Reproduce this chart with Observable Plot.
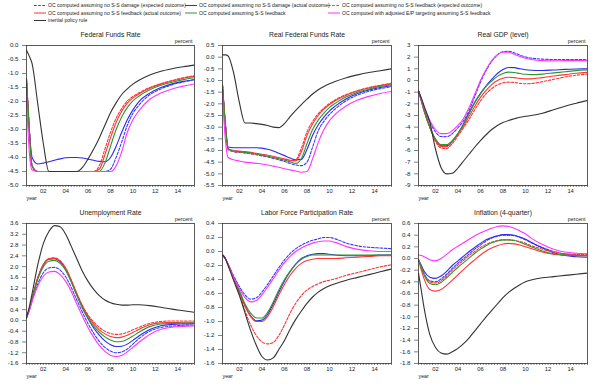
<!DOCTYPE html>
<html><head><meta charset="utf-8">
<script src="https://cdn.jsdelivr.net/npm/d3@7"></script>
<script src="https://cdn.jsdelivr.net/npm/@observablehq/plot@0.6"></script>
<style>
html,body{margin:0;padding:0;background:#fff;}
#wrap{position:relative;width:600px;height:391px;overflow:hidden;font-family:"Liberation Sans",Arial,sans-serif;}
#wrap svg{position:absolute;overflow:visible;}
</style></head>
<body><div id="wrap"></div>
<script>
// ---------- shared data ----------
const years = [2001, 2001.25, 2001.5, 2002, 2002.5, 2003, 2003.5, 2004, 2004.5, 2005, 2005.5, 2006, 2006.5, 2007, 2007.5, 2008, 2008.5, 2009, 2009.5, 2010, 2010.5, 2011, 2012, 2013, 2014, 2015, 2016];
const legendLabels = [
  "OC computed assuming no S-S damage (expected outcome)",
  "OC computed assuming no S-S damage (actual outcome)",
  "OC computed assuming no S-S feedback (expected outcome)",
  "OC computed assuming no S-S feedback (actual outcome)",
  "OC computed assuming S-S feedback",
  "OC computed with adjusted E/P targeting assuming S-S feedback",
  "inertial policy rule"
];
const seriesColors = ["#3a3aff", "#2a2af0", "#ff3434", "#ff3434", "#2f972f", "#ff33ff", "#333333"];
const seriesDash = ["2.6,1.6", null, "2.6,1.6", null, null, null, null];
const panelTitles = ["Federal Funds Rate", "Real Federal Funds Rate", "Real GDP (level)", "Unemployment Rate", "Labor Force Participation Rate", "Inflation (4-quarter)"];
const xTickPos = [2002.5, 2004.5, 2006.5, 2008.5, 2010.5, 2012.5, 2014.5];
const xTickLabels = ["02", "04", "06", "08", "10", "12", "14"];

// ---------- y ticks ----------
const ffTicks = [0, -0.5, -1, -1.5, -2, -2.5, -3, -3.5, -4, -4.5, -5];
const rffTicks = [0.5, 0, -0.5, -1, -1.5, -2, -2.5, -3, -3.5, -4, -4.5, -5, -5.5];
const gdpTicks = [3, 2, 1, 0, -1, -2, -3, -4, -5, -6, -7, -8, -9];
const urTicks = [3.6, 3.2, 2.8, 2.4, 2.0, 1.6, 1.2, 0.8, 0.4, 0.0, -0.4, -0.8, -1.2, -1.6];
const lfTicks = [0.4, 0.2, 0.0, -0.2, -0.4, -0.6, -0.8, -1.0, -1.2, -1.4, -1.6];
const infTicks = [0.6, 0.4, 0.2, 0.0, -0.2, -0.4, -0.6, -0.8, -1.0, -1.2, -1.4, -1.6, -1.8];

// ---------- Federal Funds Rate ----------
const ff_bd = [-1.2, -3.0, -4.3, -4.5, -4.5, -4.5, -4.5, -4.5, -4.5, -4.5, -4.5, -4.5, -4.5, -4.5, -4.5, -4.5, -4.42, -4.0, -3.45, -2.85, -2.42, -2.15, -1.76, -1.55, -1.4, -1.3, -1.22];
const ff_bs = [-1.25, -3.0, -4.0, -4.23, -4.2, -4.15, -4.1, -4.05, -4.01, -4.0, -4.0, -4.02, -4.06, -4.1, -4.14, -4.15, -4.0, -3.6, -3.1, -2.65, -2.3, -2.02, -1.7, -1.5, -1.37, -1.28, -1.22];
const ff_rd = [-1.2, -3.0, -4.3, -4.5, -4.5, -4.5, -4.5, -4.5, -4.5, -4.5, -4.5, -4.5, -4.5, -4.5, -4.3, -3.7, -3.1, -2.6, -2.25, -1.98, -1.82, -1.7, -1.5, -1.36, -1.25, -1.15, -1.08];
const ff_rs = [-1.2, -3.0, -4.3, -4.5, -4.5, -4.5, -4.5, -4.5, -4.5, -4.5, -4.5, -4.5, -4.5, -4.5, -4.42, -3.9, -3.3, -2.75, -2.35, -2.06, -1.87, -1.74, -1.53, -1.38, -1.27, -1.17, -1.1];
const ff_g  = [-1.2, -3.0, -4.3, -4.5, -4.5, -4.5, -4.5, -4.5, -4.5, -4.5, -4.5, -4.5, -4.5, -4.5, -4.5, -4.2, -3.6, -3.0, -2.55, -2.22, -1.98, -1.82, -1.58, -1.42, -1.31, -1.22, -1.15];
const ff_m  = [-1.9, -3.8, -4.45, -4.5, -4.5, -4.5, -4.5, -4.5, -4.5, -4.5, -4.5, -4.5, -4.5, -4.5, -4.5, -4.5, -4.5, -4.3, -3.8, -3.1, -2.65, -2.35, -1.92, -1.7, -1.55, -1.45, -1.37];
const ff_k  = [-0.17, -0.38, -0.65, -2.07, -3.49, -4.5, -4.5, -4.5, -4.5, -4.5, -4.5, -4.35, -4.05, -3.7, -3.3, -2.85, -2.4, -2.05, -1.75, -1.55, -1.38, -1.25, -1.05, -0.92, -0.83, -0.76, -0.7];

// ---------- Real Federal Funds Rate ----------
const rff_bd = [-1.2, -2.9, -3.95, -4.05, -4.08, -4.1, -4.14, -4.18, -4.23, -4.28, -4.34, -4.4, -4.47, -4.55, -4.62, -4.65, -4.5, -3.85, -3.15, -2.75, -2.45, -2.22, -1.86, -1.62, -1.46, -1.35, -1.26];
const rff_bs = [-1.2, -2.8, -3.85, -3.88, -3.88, -3.88, -3.88, -3.88, -3.9, -3.95, -4.02, -4.12, -4.22, -4.32, -4.4, -4.38, -3.95, -3.35, -2.9, -2.57, -2.3, -2.1, -1.78, -1.56, -1.41, -1.3, -1.22];
const rff_rd = [-1.2, -2.85, -3.95, -4.05, -4.07, -4.1, -4.13, -4.17, -4.2, -4.25, -4.3, -4.35, -4.4, -4.45, -4.4, -3.9, -3.2, -2.75, -2.42, -2.18, -1.98, -1.83, -1.6, -1.43, -1.3, -1.2, -1.12];
const rff_rs = [-1.2, -2.85, -3.92, -4.0, -4.02, -4.05, -4.08, -4.12, -4.16, -4.2, -4.25, -4.3, -4.36, -4.42, -4.45, -4.05, -3.35, -2.85, -2.5, -2.23, -2.03, -1.87, -1.63, -1.45, -1.32, -1.22, -1.14];
const rff_g  = [-1.2, -2.85, -3.93, -4.02, -4.05, -4.08, -4.11, -4.15, -4.2, -4.25, -4.3, -4.35, -4.42, -4.48, -4.55, -4.35, -3.7, -3.1, -2.7, -2.4, -2.15, -1.98, -1.7, -1.5, -1.37, -1.26, -1.18];
const rff_m  = [-1.7, -3.5, -4.3, -4.4, -4.45, -4.5, -4.52, -4.55, -4.58, -4.62, -4.67, -4.72, -4.78, -4.83, -4.88, -4.93, -4.9, -4.35, -3.65, -3.1, -2.72, -2.45, -2.08, -1.84, -1.68, -1.56, -1.47];
const rff_k  = [0.1, 0.1, 0.05, -0.7, -1.95, -2.82, -2.82, -2.85, -2.88, -2.93, -3.0, -3.02, -2.85, -2.55, -2.28, -2.03, -1.8, -1.58, -1.4, -1.26, -1.14, -1.04, -0.88, -0.76, -0.66, -0.58, -0.5];

// ---------- Real GDP (level) ----------
const gdp_bd = [-0.9, -1.65, -2.4, -3.55, -4.4, -4.8, -4.82, -4.55, -4.05, -3.45, -2.55, -1.35, -0.15, 0.85, 1.65, 2.2, 2.47, 2.5, 2.38, 2.18, 2.02, 1.92, 1.83, 1.8, 1.8, 1.8, 1.78];
const gdp_bs = [-0.9, -1.7, -2.55, -3.95, -5.05, -5.6, -5.6, -5.2, -4.55, -3.7, -2.75, -1.85, -1.1, -0.45, 0.1, 0.6, 0.95, 1.12, 1.1, 1.0, 0.92, 0.88, 0.86, 0.9, 0.95, 0.98, 1.0];
const gdp_rd = [-0.9, -1.75, -2.65, -4.05, -5.2, -5.78, -5.82, -5.4, -4.75, -4.05, -3.3, -2.5, -1.75, -1.15, -0.7, -0.38, -0.2, -0.14, -0.17, -0.24, -0.28, -0.26, -0.1, 0.1, 0.3, 0.45, 0.55];
const gdp_rs = [-0.9, -1.72, -2.6, -4.0, -5.1, -5.65, -5.68, -5.25, -4.6, -3.9, -3.05, -2.2, -1.45, -0.85, -0.35, 0.0, 0.2, 0.28, 0.25, 0.18, 0.14, 0.14, 0.25, 0.38, 0.5, 0.62, 0.7];
const gdp_g  = [-0.9, -1.7, -2.55, -3.95, -5.0, -5.5, -5.5, -5.15, -4.55, -3.75, -2.8, -1.9, -1.15, -0.5, -0.05, 0.35, 0.6, 0.72, 0.68, 0.6, 0.53, 0.5, 0.55, 0.65, 0.75, 0.85, 0.9];
const gdp_m  = [-0.9, -1.6, -2.3, -3.4, -4.2, -4.55, -4.55, -4.3, -3.85, -3.25, -2.3, -1.15, 0.0, 0.95, 1.7, 2.2, 2.42, 2.42, 2.25, 2.05, 1.9, 1.8, 1.7, 1.68, 1.7, 1.7, 1.7];
const gdp_k  = [-0.9, -1.5, -2.2, -3.55, -5.85, -7.45, -8.0, -7.95, -7.5, -6.9, -6.3, -5.7, -5.15, -4.65, -4.2, -3.85, -3.6, -3.42, -3.28, -3.15, -3.07, -3.0, -2.8, -2.5, -2.2, -1.95, -1.72];

// ---------- Unemployment Rate ----------
const u_bd = [0.1, 0.38, 0.74, 1.35, 1.77, 1.95, 1.97, 1.87, 1.62, 1.22, 0.75, 0.3, -0.12, -0.48, -0.78, -1.0, -1.14, -1.2, -1.17, -1.06, -0.88, -0.69, -0.4, -0.26, -0.21, -0.18, -0.17];
const u_bs = [0.1, 0.42, 0.82, 1.57, 2.06, 2.27, 2.29, 2.18, 1.9, 1.45, 0.95, 0.47, 0.06, -0.28, -0.55, -0.76, -0.9, -0.97, -0.96, -0.88, -0.74, -0.59, -0.34, -0.2, -0.15, -0.13, -0.12];
const u_rd = [0.1, 0.42, 0.82, 1.58, 2.08, 2.3, 2.33, 2.22, 1.95, 1.5, 1.0, 0.55, 0.2, -0.06, -0.26, -0.4, -0.49, -0.52, -0.5, -0.44, -0.35, -0.26, -0.11, -0.04, -0.02, -0.02, -0.02];
const u_rs = [0.1, 0.42, 0.82, 1.57, 2.06, 2.28, 2.31, 2.2, 1.93, 1.48, 0.98, 0.52, 0.15, -0.13, -0.35, -0.5, -0.6, -0.64, -0.62, -0.55, -0.45, -0.34, -0.16, -0.09, -0.08, -0.07, -0.07];
const u_g  = [0.1, 0.41, 0.8, 1.52, 1.99, 2.2, 2.23, 2.12, 1.86, 1.42, 0.92, 0.46, 0.08, -0.21, -0.44, -0.61, -0.73, -0.79, -0.78, -0.7, -0.58, -0.45, -0.23, -0.13, -0.11, -0.1, -0.1];
const u_m  = [0.1, 0.36, 0.7, 1.27, 1.64, 1.8, 1.82, 1.7, 1.45, 1.07, 0.6, 0.15, -0.27, -0.63, -0.93, -1.15, -1.29, -1.34, -1.3, -1.17, -1.0, -0.83, -0.52, -0.33, -0.25, -0.22, -0.2];
const u_k  = [0.1, 0.5, 1.0, 2.05, 2.85, 3.3, 3.52, 3.48, 3.2, 2.75, 2.28, 1.82, 1.45, 1.15, 0.92, 0.76, 0.66, 0.6, 0.57, 0.57, 0.58, 0.58, 0.55, 0.49, 0.42, 0.36, 0.3];

// ---------- Labor Force Participation Rate ----------
const lf_bd = [-0.05, -0.1, -0.18, -0.35, -0.5, -0.62, -0.68, -0.66, -0.58, -0.47, -0.35, -0.23, -0.12, -0.03, 0.04, 0.09, 0.13, 0.16, 0.18, 0.2, 0.2, 0.18, 0.12, 0.08, 0.06, 0.05, 0.04];
const lf_bs = [-0.05, -0.1, -0.19, -0.38, -0.58, -0.78, -0.92, -0.99, -0.98, -0.9, -0.75, -0.58, -0.42, -0.29, -0.18, -0.1, -0.06, -0.04, -0.03, -0.03, -0.04, -0.05, -0.06, -0.06, -0.06, -0.05, -0.05];
const lf_rd = [-0.05, -0.1, -0.2, -0.4, -0.6, -0.85, -1.05, -1.2, -1.29, -1.32, -1.3, -1.2, -1.05, -0.88, -0.74, -0.63, -0.55, -0.5, -0.46, -0.43, -0.41, -0.39, -0.34, -0.3, -0.26, -0.22, -0.19];
const lf_rs = [-0.05, -0.1, -0.19, -0.38, -0.58, -0.78, -0.93, -1.0, -1.0, -0.93, -0.79, -0.62, -0.47, -0.34, -0.24, -0.17, -0.13, -0.11, -0.1, -0.1, -0.1, -0.1, -0.09, -0.08, -0.07, -0.06, -0.06];
const lf_g  = [-0.05, -0.1, -0.19, -0.37, -0.56, -0.75, -0.88, -0.95, -0.95, -0.87, -0.72, -0.55, -0.4, -0.28, -0.18, -0.11, -0.07, -0.05, -0.05, -0.05, -0.05, -0.05, -0.05, -0.05, -0.05, -0.05, -0.05];
const lf_m  = [-0.05, -0.1, -0.19, -0.37, -0.53, -0.66, -0.72, -0.7, -0.62, -0.51, -0.39, -0.27, -0.16, -0.07, 0.0, 0.05, 0.09, 0.12, 0.14, 0.15, 0.15, 0.13, 0.07, 0.03, 0.01, 0.0, 0.0];
const lf_k  = [-0.05, -0.1, -0.2, -0.42, -0.63, -0.88, -1.13, -1.34, -1.5, -1.55, -1.52, -1.4, -1.27, -1.11, -0.97, -0.85, -0.74, -0.65, -0.58, -0.53, -0.49, -0.46, -0.41, -0.37, -0.33, -0.29, -0.25];

// ---------- Inflation (4-quarter) ----------
const in_bd = [-0.02, -0.14, -0.26, -0.38, -0.4, -0.35, -0.27, -0.17, -0.08, 0.0, 0.08, 0.16, 0.23, 0.3, 0.35, 0.38, 0.4, 0.4, 0.39, 0.36, 0.32, 0.27, 0.19, 0.12, 0.08, 0.06, 0.05];
const in_bs = [-0.02, -0.12, -0.22, -0.32, -0.34, -0.3, -0.22, -0.12, -0.04, 0.04, 0.12, 0.19, 0.26, 0.32, 0.36, 0.39, 0.41, 0.41, 0.4, 0.37, 0.33, 0.28, 0.18, 0.1, 0.05, 0.03, 0.02];
const in_rd = [-0.02, -0.14, -0.27, -0.4, -0.42, -0.38, -0.3, -0.2, -0.11, -0.03, 0.05, 0.12, 0.19, 0.24, 0.28, 0.31, 0.32, 0.32, 0.31, 0.29, 0.26, 0.22, 0.16, 0.11, 0.08, 0.07, 0.07];
const in_rs = [-0.02, -0.2, -0.35, -0.53, -0.56, -0.53, -0.46, -0.37, -0.28, -0.19, -0.1, -0.02, 0.06, 0.13, 0.18, 0.22, 0.25, 0.26, 0.25, 0.23, 0.2, 0.17, 0.11, 0.07, 0.06, 0.05, 0.05];
const in_g  = [-0.02, -0.15, -0.28, -0.43, -0.45, -0.41, -0.33, -0.24, -0.15, -0.07, 0.01, 0.09, 0.16, 0.22, 0.27, 0.3, 0.32, 0.32, 0.31, 0.28, 0.24, 0.2, 0.13, 0.08, 0.06, 0.05, 0.05];
const in_m  = [0.06, 0.05, 0.03, -0.02, -0.04, 0.0, 0.07, 0.15, 0.21, 0.27, 0.33, 0.39, 0.44, 0.48, 0.52, 0.55, 0.56, 0.55, 0.52, 0.47, 0.42, 0.35, 0.24, 0.16, 0.11, 0.09, 0.08];
const in_k  = [-0.25, -0.55, -0.85, -1.3, -1.52, -1.62, -1.64, -1.6, -1.54, -1.46, -1.36, -1.24, -1.12, -1.0, -0.89, -0.78, -0.67, -0.58, -0.51, -0.45, -0.4, -0.37, -0.33, -0.31, -0.29, -0.27, -0.25];

// ---------- layout ----------
const wrap = document.getElementById("wrap");
const fmt1 = d => d.toFixed(1);
const fmt0 = d => String(d);
const quarterTicks = d3.range(2001, 2016.001, 0.25);

const panels = [
  {title: panelTitles[0], series: [ff_bd, ff_bs, ff_rd, ff_rs, ff_g, ff_m, ff_k], ticks: ffTicks, dom: [-5, 0], fmt: fmt1, left: 0, top: 26, fx0: 26, fx1: 194},
  {title: panelTitles[1], series: [rff_bd, rff_bs, rff_rd, rff_rs, rff_g, rff_m, rff_k], ticks: rffTicks, dom: [-5.5, 0.5], fmt: fmt1, left: 200, top: 26, fx0: 222, fx1: 391},
  {title: panelTitles[2], series: [gdp_bd, gdp_bs, gdp_rd, gdp_rs, gdp_g, gdp_m, gdp_k], ticks: gdpTicks, dom: [-9, 3], fmt: fmt0, left: 400, top: 26, fx0: 418, fx1: 587},
  {title: panelTitles[3], series: [u_bd, u_bs, u_rd, u_rs, u_g, u_m, u_k], ticks: urTicks, dom: [-1.6, 3.6], fmt: fmt1, left: 0, top: 204, fx0: 26, fx1: 194},
  {title: panelTitles[4], series: [lf_bd, lf_bs, lf_rd, lf_rs, lf_g, lf_m, lf_k], ticks: lfTicks, dom: [-1.6, 0.4], fmt: fmt1, left: 200, top: 204, fx0: 222, fx1: 391},
  {title: panelTitles[5], series: [in_bd, in_bs, in_rd, in_rs, in_g, in_m, in_k], ticks: infTicks, dom: [-1.8, 0.6], fmt: fmt1, left: 400, top: 204, fx0: 418, fx1: 587}
];

const W = 200, H = 178, MT = 19, MB = 19;
for (const p of panels) {
  const marks = [
    Plot.axisX(quarterTicks, {anchor: "bottom", tickSize: 2, tickFormat: () => "", label: null, stroke: "#333", strokeWidth: 0.6}),
    Plot.text(xTickPos, {x: d => d, text: (d, i) => xTickLabels[i], frameAnchor: "bottom", dy: 7.3, fontSize: 5.8, fill: "#222"}),
    Plot.axisY(p.ticks, {anchor: "left", tickSize: 4, tickPadding: 4, tickFormat: p.fmt, label: null, fontSize: 6.2, stroke: "#333", strokeWidth: 0.6})
  ];
  p.series.forEach((vals, si) => {
    const rows = vals.map((v, i) => ({year: years[i], value: v}));
    marks.push(Plot.line(rows, {x: "year", y: "value", stroke: seriesColors[si], strokeWidth: 1.1, strokeDasharray: seriesDash[si] || undefined, curve: "monotone-x", clip: true}));
  });
  marks.push(Plot.frame({stroke: "#333", strokeWidth: 0.8}));
  marks.push(Plot.text([p.title], {text: d => d, frameAnchor: "top", dy: -13, fontSize: 6.8, fill: "#222"}));
  marks.push(Plot.text(["percent"], {text: d => d, frameAnchor: "top-right", textAnchor: "end", dy: -6, dx: -2, fontSize: 5.3, fill: "#222"}));
  marks.push(Plot.text(["year"], {text: d => d, frameAnchor: "bottom-left", textAnchor: "start", dy: 14, fontSize: 5.3, fill: "#222"}));
  const svg = Plot.plot({
    width: W, height: H,
    marginLeft: p.fx0 - p.left, marginRight: p.left + W - p.fx1,
    marginTop: MT, marginBottom: MB,
    x: {domain: [2001, 2016], label: null},
    y: {domain: p.dom, label: null},
    style: {fontFamily: '"Liberation Sans", Arial, sans-serif', fontSize: "6px", color: "#222", background: "transparent", overflow: "visible"},
    marks
  });
  svg.style.left = p.left + "px";
  svg.style.top = p.top + "px";
  wrap.appendChild(svg);
}

// ---------- legend ----------
const legCols = [34, 185, 328];
const legRows = [5.5, 13, 20.5];
const leg = d3.create("svg").attr("width", 600).attr("height", 26)
  .style("left", "0px").style("top", "0px");
legendLabels.forEach((lab, i) => {
  const cx = legCols[i % 3], cy = legRows[Math.floor(i / 3)];
  leg.append("line").attr("x1", cx).attr("x2", cx + 12).attr("y1", cy).attr("y2", cy)
    .attr("stroke", seriesColors[i]).attr("stroke-width", 1)
    .attr("stroke-dasharray", seriesDash[i] || null);
  leg.append("text").attr("x", cx + 14).attr("y", cy).attr("dy", "0.35em")
    .attr("font-family", '"Liberation Sans", Arial, sans-serif').attr("font-size", 5.1)
    .attr("fill", "#222").text(lab);
});
wrap.appendChild(leg.node());
</script>
</body></html>
